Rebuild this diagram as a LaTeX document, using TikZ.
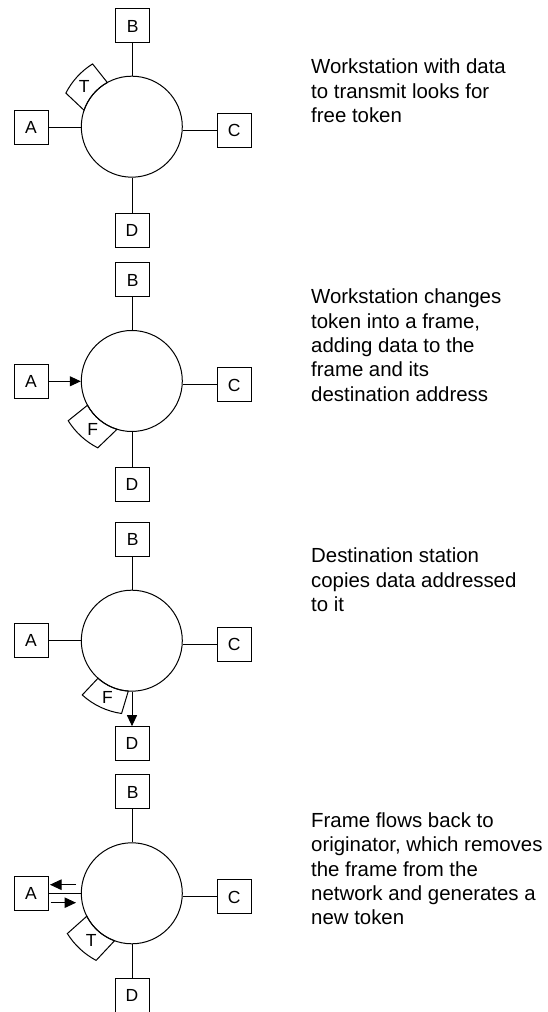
\documentclass[tikz,border=0pt]{standalone}
\usepackage{fontspec}
\setmainfont{Liberation Sans}
\usetikzlibrary{arrows.meta}
\begin{document}
\begin{tikzpicture}[x=1pt,y=1pt,
  station/.style={draw, line width=1pt, minimum size=34pt, inner sep=0pt, font=\fontsize{17.5}{20}\selectfont},
  ring/.style={draw, circle, line width=1pt, minimum size=101pt, inner sep=0pt},
  link/.style={line width=1pt},
  flow/.style={line width=1pt, -{Triangle[length=11pt,width=10pt]}},
  token/.style={draw, line width=1pt},
  toklabel/.style={inner sep=0pt, font=\fontsize{17.5}{20}\selectfont},
  caption/.style={anchor=base west, inner sep=0pt, font=\fontsize{20.4}{24.3}\selectfont}]
\useasboundingbox (0,0) rectangle (547,1012);

% ---------- Panel 1 ----------
\node[ring] (r1) at (131.8,885.3) {};
\node[station] (b1) at (132.7,986) {B};
\node[station] (a1) at (31,884.7) {A};
\node[station] (c1) at (234.3,881.3) {C};
\node[station] (d1) at (132,781.2) {D};
\draw[link] (b1.south) -- (b1.south |- r1.north);
\draw[link] (a1.east) -- (a1.east -| r1.west);
\draw[link] (c1.west) -- (c1.west -| r1.east);
\draw[link] (d1.north) -- (d1.north |- r1.south);
\draw[token, shift={(r1.center)}] (161:50.5) arc[start angle=161, end angle=119, radius=50.5]
  -- (122:74) arc[start angle=122, end angle=153, radius=74] -- cycle;
\path (r1.center) ++(140:62) node[toklabel] (t1) {T};
\node[caption] (cap1) at (311,938) {\begin{tabular}[t]{@{}l@{}}Workstation with data\\to transmit looks for\\free token\end{tabular}};

% ---------- Panel 2 ----------
\node[ring] (r2) at (131.8,631) {};
\node[station] (b2) at (132.7,732) {B};
\node[station] (a2) at (31,630.7) {A};
\node[station] (c2) at (234.3,627) {C};
\node[station] (d2) at (132,527.3) {D};
\draw[link] (b2.south) -- (b2.south |- r2.north);
\draw[flow] (a2.east) -- (a2.east -| r2.west);
\draw[link] (c2.west) -- (c2.west -| r2.east);
\draw[link] (d2.north) -- (d2.north |- r2.south);
\draw[token, shift={(r2.center)}] (208.7:50.5) arc[start angle=208.7, end angle=253, radius=50.5]
  -- (243:75) arc[start angle=243, end angle=212, radius=75] -- cycle;
\path (r2.center) ++(231:62) node[toklabel] (f2) {F};
\node[caption] (cap2) at (311,708) {\begin{tabular}[t]{@{}l@{}}Workstation changes\\token into a frame,\\adding data to the\\frame and its\\destination address\end{tabular}};

% ---------- Panel 3 ----------
\node[ring] (r3) at (131.8,371.3) {};
\node[station] (b3) at (132.7,472.7) {B};
\node[station] (a3) at (31,371.3) {A};
\node[station] (c3) at (234.3,367.7) {C};
\node[station] (d3) at (132,268.3) {D};
\draw[link] (b3.south) -- (b3.south |- r3.north);
\draw[link] (a3.east) -- (a3.east -| r3.west);
\draw[link] (c3.west) -- (c3.west -| r3.east);
\draw[flow] (d3.north |- r3.south) -- (d3.north);
\draw[token, shift={(r3.center)}] (228:50.5) arc[start angle=228, end angle=266, radius=50.5]
  -- (262:73.5) arc[start angle=262, end angle=227.6, radius=73.5] -- cycle;
\path (r3.center) ++(247:62) node[toklabel] (f3) {F};
\node[caption] (cap3) at (311,449) {\begin{tabular}[t]{@{}l@{}}Destination station\\copies data addressed\\to it\end{tabular}};

% ---------- Panel 4 ----------
\node[ring] (r4) at (131.8,118.7) {};
\node[station] (b4) at (132.7,220) {B};
\node[station] (a4) at (31,118.7) {A};
\node[station] (c4) at (234.3,115) {C};
\node[station] (d4) at (132,16.5) {D};
\draw[link] (b4.south) -- (b4.south |- r4.north);
\draw[link] (a4.east) -- (a4.east -| r4.west);
\draw[link] (c4.west) -- (c4.west -| r4.east);
\draw[link] (d4.north) -- (d4.north |- r4.south);
\coordinate (u4s) at (76,127.3);
\coordinate (u4e) at (50,127.3);
\coordinate (l4s) at (50.7,109.3);
\coordinate (l4e) at (76,109.3);
\draw[flow, -{Triangle[length=11.5pt,width=10.5pt]}] (u4s) -- (u4e);
\draw[flow, -{Triangle[length=11.5pt,width=10.5pt]}] (l4s) -- (l4e);
\draw[token, shift={(r4.center)}] (207:50.5) arc[start angle=207, end angle=250, radius=50.5]
  -- (242:76) arc[start angle=242, end angle=212, radius=76] -- cycle;
\path (r4.center) ++(229:62) node[toklabel] (t4) {T};
\node[caption] (cap4) at (311,184.5) {\begin{tabular}[t]{@{}l@{}}Frame flows back to\\originator, which removes\\the frame from the\\network and generates a\\new token\end{tabular}};
\end{tikzpicture}
\end{document}
